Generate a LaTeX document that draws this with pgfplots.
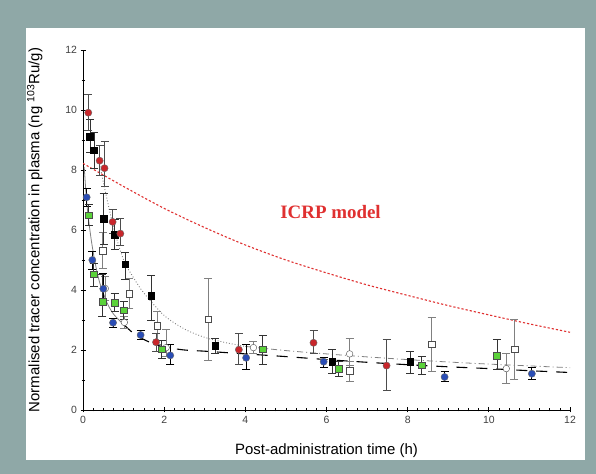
\documentclass[border=0pt]{standalone}
\usepackage{pgfplots}
\pgfplotsset{compat=1.18}
\usepackage{fontspec}
\setmainfont{Liberation Sans}
\newfontfamily\serifb{Liberation Serif}
\definecolor{framec}{HTML}{8FA8A7}
\definecolor{redc}{HTML}{C8262B}
\definecolor{bluec}{HTML}{2A4DB5}
\definecolor{greenc}{HTML}{5BD23A}
\definecolor{icrp}{HTML}{E03030}
\begin{document}
\begin{tikzpicture}[x=1bp,y=1bp]
\fill[framec] (-83,-64) rectangle (513,410);
\fill[white] (-57,-50) rectangle (502,382);
\useasboundingbox (-83,-64) rectangle (513,410);
\begin{axis}[
    scale only axis,
    width=487bp, height=360bp,
    xmin=0, xmax=12, ymin=0, ymax=12,
    axis lines=left,
    axis line style={-, line width=0.9pt},
    xtick={0,2,...,12}, ytick={0,2,...,12},
    minor x tick num=7, minor y tick num=1,
    tick align=center,
    major tick length=5bp, minor tick length=3bp,
    tick style={black, line width=0.7pt},
    ticklabel style={font=\fontsize{10.5}{12}\selectfont, text=black!75},
    /pgf/number format/assume math mode=true,
    xlabel={Post-administration time (h)},
    ylabel={Normalised tracer concentration in plasma (ng \textsuperscript{103}Ru/g)},
    label style={font=\fontsize{15}{17}\selectfont},
    xlabel style={at={(axis description cs:0.5,-0.114)}, anchor=center},
    ylabel style={at={(axis description cs:-0.099,0.5)}, anchor=center},
    error bars/y dir=both, error bars/y explicit,
    error bars/error mark options={rotate=90, mark size=4bp, line width=0.8pt},
]
% ICRP model
\addplot[icrp, dash pattern=on 2.2bp off 2bp, line width=1.1pt, smooth] coordinates {
(0,8.22)(1,7.45)(2,6.72)(3,6.08)(4,5.5)(5,5.0)(6,4.57)(7,4.17)(8,3.82)(9,3.48)(10,3.17)(11,2.87)(12,2.59)};
% lower fit
\addplot[gray, line width=0.8pt, smooth] coordinates {
(0.03,8.1)(0.1,6.8)(0.2,5.7)(0.3,4.9)(0.4,4.3)(0.5,3.9)(0.6,3.55)(0.75,3.2)(1,2.85)};
\addplot[black, line width=1.1pt, dash pattern=on 11bp off 9bp, smooth] coordinates {
(1,2.85)(1.25,2.55)(1.5,2.35)(1.75,2.2)(2,2.1)(2.5,2.0)(3,1.96)(4,1.87)(5,1.78)(6,1.68)(7,1.59)(8,1.51)(9,1.44)(10,1.38)(11,1.31)(12,1.25)};
% upper fit
\addplot[gray, line width=0.9pt, dotted, smooth] coordinates {
(0.38,8.4)(0.5,7.6)(0.75,6.1)(1,5.0)(1.25,4.4)(1.5,3.9)(2,3.15)(2.5,2.7)(3,2.42)(3.5,2.25)(4,2.12)};
\addplot[gray, line width=0.8pt, dash pattern=on 6bp off 3bp on 1bp off 3bp, smooth] coordinates {
(4,2.12)(5,1.98)(6,1.87)(7,1.77)(8,1.68)(9,1.6)(10,1.53)(11,1.47)(12,1.41)};
% open squares
\addplot[only marks, mark=square*, mark size=3.3bp, mark options={fill=white, draw=black!70},
    error bars/error bar style={gray, line width=0.8pt}] coordinates {
(0.49,5.31) += (0,0.6) -= (0,0.6)
(1.14,3.87) += (0,0.5) -= (0,0.5)
(1.83,2.80) += (0,0.5) -= (0,0.6)
(3.08,3.02) += (0,1.38) -= (0,1.37)
(6.57,1.31) += (0,0.3) -= (0,0.35)
(8.59,2.19) += (0,0.9) -= (0,0.9)
(10.63,2.03) += (0,1.0) -= (0,1.0)};
% open circles
\addplot[only marks, mark=*, mark size=3.3bp, mark options={fill=white, draw=black!70},
    error bars/error bar style={gray, line width=0.8pt}] coordinates {
(0.55,4.05) += (0,0.4) -= (0,0.4)
(1.02,2.92) += (0,0.2) -= (0,0.2)
(2.05,2.08) += (0,0.6) -= (0,0.3)
(4.20,2.08) += (0,0.2) -= (0,0.2)
(6.57,1.87) += (0,0.5) -= (0,0.4)
(10.43,1.38) += (0,0.5) -= (0,0.5)};
% black squares
\addplot[only marks, mark=square*, mark size=3.3bp, mark options={fill=black, draw=black},
    error bars/error bar style={black!80, line width=0.8pt}] coordinates {
(0.17,9.10) += (0,0.6) -= (0,0.5)
(0.27,8.66) += (0,0.6) -= (0,0.6)
(0.51,6.37) += (0,0.85) -= (0,0.85)
(0.78,5.84) += (0,0.5) -= (0,0.5)
(1.04,4.86) += (0,0.4) -= (0,0.5)
(1.68,3.80) += (0,0.7) -= (0,0.8)
(3.26,2.14) += (0,0.25) -= (0,0.25)
(6.14,1.61) += (0,0.4) -= (0,0.4)
(8.06,1.61) += (0,0.35) -= (0,0.4)};
% red circles
\addplot[only marks, mark=*, mark size=3.6bp, mark options={fill=redc, draw=black!60},
    error bars/error bar style={black!70, line width=0.8pt}] coordinates {
(0.13,9.91) += (0,0.6) -= (0,0.6)
(0.41,8.31) += (0,0.5) -= (0,0.5)
(0.53,8.06) += (0,0.9) -= (0,0.6)
(0.73,6.27) += (0,0.4) -= (0,0.4)
(0.92,5.88) += (0,0.5) -= (0,0.4)
(1.80,2.26) += (0,0.3) -= (0,0.3)
(3.84,2.01) += (0,0.55) -= (0,0.5)
(5.68,2.24) += (0,0.4) -= (0,0.35)
(7.48,1.48) += (0,0.87) -= (0,0.83)};
% blue circles
\addplot[only marks, mark=*, mark size=3.6bp, mark options={fill=bluec, draw=black!60},
    error bars/error bar style={black, line width=0.8pt}] coordinates {
(0.09,7.09) += (0,0.3) -= (0,0.3)
(0.23,5.00) += (0,0.3) -= (0,0.3)
(0.50,4.04) += (0,0.5) -= (0,0.5)
(0.74,2.91) += (0,0.15) -= (0,0.15)
(1.42,2.50) += (0,0.15) -= (0,0.15)
(2.15,1.82) += (0,0.35) -= (0,0.3)
(4.02,1.74) += (0,0.45) -= (0,0.4)
(5.93,1.61) += (0,0.15) -= (0,0.2)
(8.91,1.10) += (0,0.2) -= (0,0.15)
(11.06,1.21) += (0,0.2) -= (0,0.2)};
% green squares
\addplot[only marks, mark=square*, mark size=3.3bp, mark options={fill=greenc, draw=black!70},
    error bars/error bar style={black!80, line width=0.8pt}] coordinates {
(0.14,6.49) += (0,0.35) -= (0,0.35)
(0.26,4.53) += (0,0.35) -= (0,0.4)
(0.48,3.61) += (0,0.9) -= (0,0.5)
(0.78,3.58) += (0,0.3) -= (0,0.3)
(1.00,3.33) += (0,0.3) -= (0,0.3)
(1.94,2.03) += (0,0.3) -= (0,0.3)
(4.43,2.02) += (0,0.45) -= (0,0.5)
(6.30,1.38) += (0,0.25) -= (0,0.25)
(8.35,1.49) += (0,0.3) -= (0,0.3)
(10.20,1.80) += (0,0.55) -= (0,0.45)};
\node[text=icrp, font=\serifb\bfseries\fontsize{19}{21}\selectfont] at (axis cs:6.1,6.6) {ICRP model};
\end{axis}
\end{tikzpicture}
\end{document}
